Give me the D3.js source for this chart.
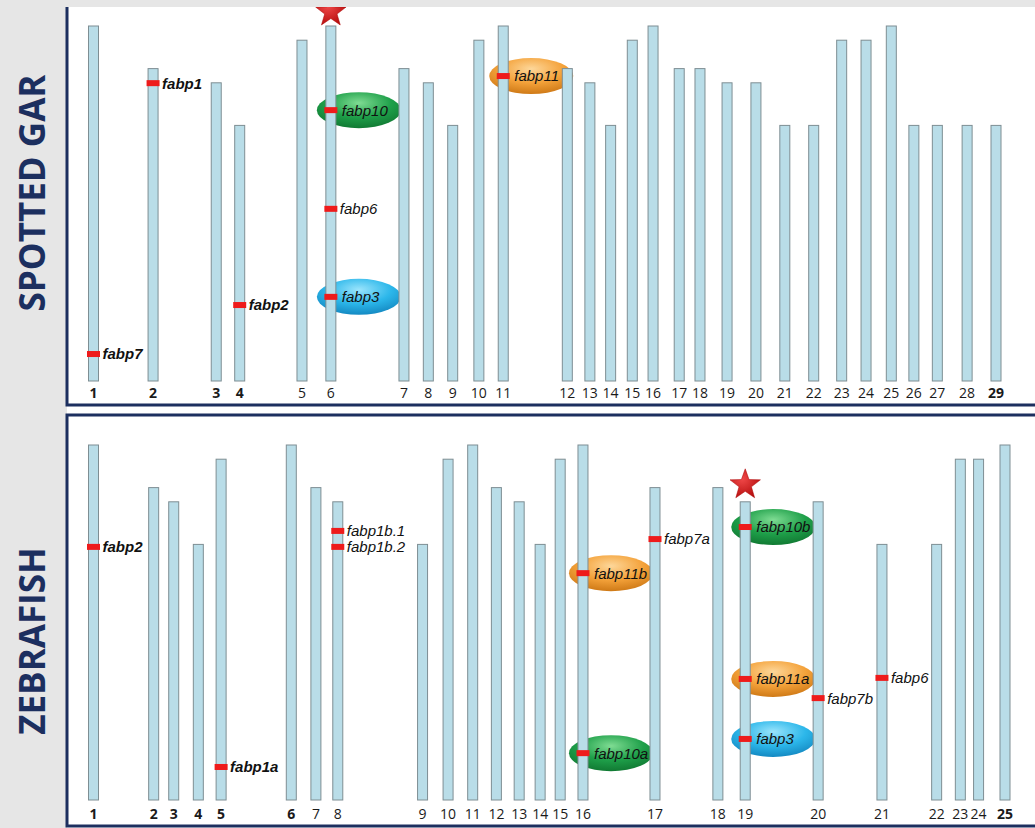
<!DOCTYPE html>
<html>
<head>
<meta charset="utf-8">
<script src="https://cdn.jsdelivr.net/npm/d3@7"></script>
<style>
  body { margin: 0; background: #e6e6e6; }
  svg { display: block; }
</style>
</head>
<body>
<svg width="1035" height="828"></svg>
<script>
// ---- data ----
// relative chromosome lengths (longest = 100) and horizontal track positions (0-100)
var garChrom = d3.range(1, 30).map(String);
var garLen = [100, 88, 84, 72, 96, 100, 88, 84, 72, 96, 100, 88, 84, 72, 96, 100, 88, 88, 84, 84, 72, 72, 96, 96, 100, 72, 72, 72, 72];
var garPos = [0, 6.6, 13.6, 16.2, 23.1, 26.3, 34.4, 37.1, 39.8, 42.7, 45.4, 52.5, 55.0, 57.3, 59.7, 62.0, 64.9, 67.2, 70.2, 73.4, 76.6, 79.8, 82.9, 85.6, 88.4, 90.9, 93.5, 96.8, 100];
var garBold = ["1", "2", "3", "4", "29"];

var zfChrom = d3.range(1, 26).map(String);
var zfLen = [100, 88, 84, 72, 96, 100, 88, 84, 72, 96, 100, 88, 84, 72, 96, 100, 88, 88, 84, 84, 72, 72, 96, 96, 100];
var zfPos = [0, 6.6, 8.8, 11.5, 14.0, 21.7, 24.4, 26.8, 36.1, 38.9, 41.6, 44.2, 46.7, 49.0, 51.2, 53.7, 61.6, 68.5, 71.5, 79.5, 86.5, 92.5, 95.1, 97.1, 100];
var zfBold = ["1", "2", "3", "4", "5", "6", "25"];

// genes: chromosome, position from the bottom (same units as length), family
var garGenes = [
  { gene: "fabp7",  chr: "1",  at: 7.6,  fam: null, bold: true },
  { gene: "fabp1",  chr: "2",  at: 83.9, fam: null, bold: true },
  { gene: "fabp2",  chr: "4",  at: 21.4, fam: null, bold: true },
  { gene: "fabp10", chr: "6",  at: 76.3, fam: "fabp10" },
  { gene: "fabp6",  chr: "6",  at: 48.5, fam: null },
  { gene: "fabp3",  chr: "6",  at: 23.7, fam: "fabp3" },
  { gene: "fabp11", chr: "11", at: 85.9, fam: "fabp11" }
];
var zfGenes = [
  { gene: "fabp2",    chr: "1",  at: 71.3, fam: null, bold: true },
  { gene: "fabp1a",   chr: "5",  at: 9.3,  fam: null, bold: true },
  { gene: "fabp1b.1", chr: "8",  at: 75.8, fam: null },
  { gene: "fabp1b.2", chr: "8",  at: 71.3, fam: null },
  { gene: "fabp11b",  chr: "16", at: 63.9, fam: "fabp11" },
  { gene: "fabp10a",  chr: "16", at: 13.2, fam: "fabp10" },
  { gene: "fabp7a",   chr: "17", at: 73.5, fam: null },
  { gene: "fabp10b",  chr: "19", at: 76.9, fam: "fabp10" },
  { gene: "fabp11a",  chr: "19", at: 34.1, fam: "fabp11" },
  { gene: "fabp3",    chr: "19", at: 17.2, fam: "fabp3" },
  { gene: "fabp7b",   chr: "20", at: 28.7, fam: null },
  { gene: "fabp6",    chr: "21", at: 34.4, fam: null }
];
var garStar = "6", zfStar = "19";

var famColor = {
  fabp10: ["#7fdc93", "#1fa04a", "#117a33"],
  fabp11: ["#fdd79a", "#f4a23a", "#cf7a17"],
  fabp3:  ["#9ae4fc", "#2cb7ea", "#1489c2"]
};

var svg = d3.select("svg"),
    navy = "#1c2f5f";

// gradients
var defs = svg.append("defs");
Object.keys(famColor).forEach(function(k) {
  var gr = defs.append("radialGradient").attr("id", "g-" + k)
      .attr("cx", "50%").attr("cy", "30%").attr("r", "70%");
  gr.append("stop").attr("offset", "0%").attr("stop-color", famColor[k][0]);
  gr.append("stop").attr("offset", "55%").attr("stop-color", famColor[k][1]);
  gr.append("stop").attr("offset", "100%").attr("stop-color", famColor[k][2]);
});
var sg = defs.append("radialGradient").attr("id", "g-star").attr("cx", "40%").attr("cy", "35%").attr("r", "70%");
sg.append("stop").attr("offset", "0%").attr("stop-color", "#f04848");
sg.append("stop").attr("offset", "100%").attr("stop-color", "#b40c0c");
defs.append("clipPath").attr("id", "page")
  .append("rect").attr("x", 67).attr("y", 7).attr("width", 968).attr("height", 821);

// panel frames
svg.append("rect").attr("x", 67).attr("y", 7).attr("width", 968).attr("height", 821).attr("fill", "#fff");
svg.append("path").attr("d", "M67,7V405H1035").attr("fill", "none").attr("stroke", navy).attr("stroke-width", 3);
svg.append("rect").attr("x", 67).attr("y", 415).attr("width", 975).attr("height", 411)
    .attr("fill", "none").attr("stroke", navy).attr("stroke-width", 3);

// species titles
svg.append("text").attr("transform", "translate(45,193) rotate(-90)")
    .attr("text-anchor", "middle").attr("font-family", "Open Sans").attr("font-weight", 700)
    .attr("font-size", 35).attr("fill", navy).text("SPOTTED GAR");
svg.append("text").attr("transform", "translate(45,641) rotate(-90)")
    .attr("text-anchor", "middle").attr("font-family", "Open Sans").attr("font-weight", 700)
    .attr("font-size", 35).attr("fill", navy).text("ZEBRAFISH");

function starPath(cx, cy, R, r) {
  var pts = d3.range(10).map(function(i) {
    var a = -Math.PI / 2 + i * Math.PI / 5, rr = i % 2 ? r : R;
    return [cx + rr * Math.cos(a), cy + rr * Math.sin(a)];
  });
  return "M" + pts.join("L") + "Z";
}

function drawPanel(chrom, len, pos, bold, genes, star, xRange, bottom, numY, starGap) {
  var x = d3.scaleLinear().domain([0, 100]).range(xRange);
  var y = d3.scaleLinear().domain([0, 100]).range([bottom, bottom - 355]);
  var xOf = {}, lenOf = {};
  chrom.forEach(function(c, i) { xOf[c] = x(pos[i]); lenOf[c] = len[i]; });
  var g = svg.append("g").attr("clip-path", "url(#page)");

  // ellipses behind chromosomes
  g.selectAll("ellipse").data(genes.filter(function(d) { return d.fam; }))
    .enter().append("ellipse")
      .attr("cx", function(d) { return xOf[d.chr] + 28; })
      .attr("cy", function(d) { return y(d.at); })
      .attr("rx", 42).attr("ry", 18)
      .attr("fill", function(d) { return "url(#g-" + d.fam + ")"; });

  g.selectAll("rect.chr").data(chrom)
    .enter().append("rect").attr("class", "chr")
      .attr("x", function(d) { return xOf[d] - 5; })
      .attr("y", function(d) { return y(lenOf[d]); })
      .attr("width", 10)
      .attr("height", function(d) { return y(0) - y(lenOf[d]); })
      .attr("fill", "#b9dde8").attr("stroke", "#7e8e93").attr("stroke-width", 1);

  g.selectAll("text.num").data(chrom)
    .enter().append("text").attr("class", "num")
      .attr("x", function(d) { return xOf[d]; })
      .attr("y", numY)
      .attr("text-anchor", "middle")
      .attr("font-family", "Open Sans").attr("font-size", 14)
      .attr("font-weight", function(d) { return bold.indexOf(d) >= 0 ? 700 : 400; })
      .attr("fill", "#1a1a1a")
      .text(function(d) { return d; });

  g.selectAll("rect.mark").data(genes)
    .enter().append("rect").attr("class", "mark")
      .attr("x", function(d) { return xOf[d.chr] - 6.5; })
      .attr("y", function(d) { return y(d.at) - 3; })
      .attr("width", 13).attr("height", 6)
      .attr("fill", "#ee1b1b");

  g.selectAll("text.gene").data(genes)
    .enter().append("text").attr("class", "gene")
      .attr("x", function(d) { return xOf[d.chr] + (d.fam ? 11 : 9); })
      .attr("y", function(d) { return y(d.at); })
      .attr("dy", "0.36em")
      .attr("font-family", "Liberation Sans, Arial, sans-serif")
      .attr("font-style", "italic").attr("font-size", 15)
      .attr("font-weight", function(d) { return d.bold ? 700 : 400; })
      .attr("fill", "#111")
      .text(function(d) { return d.gene; });

  g.append("path")
    .attr("d", starPath(xOf[star], y(lenOf[star]) - starGap, 16, 6.5))
    .attr("fill", "url(#g-star)").attr("stroke", "#a00").attr("stroke-width", 0.5);
}

drawPanel(garChrom, garLen, garPos, garBold, garGenes, garStar, [93.5, 996], 381, 398, 14);
drawPanel(zfChrom, zfLen, zfPos, zfBold, zfGenes, zfStar, [93.5, 1005], 800, 819, 17);
</script>
</body>
</html>
